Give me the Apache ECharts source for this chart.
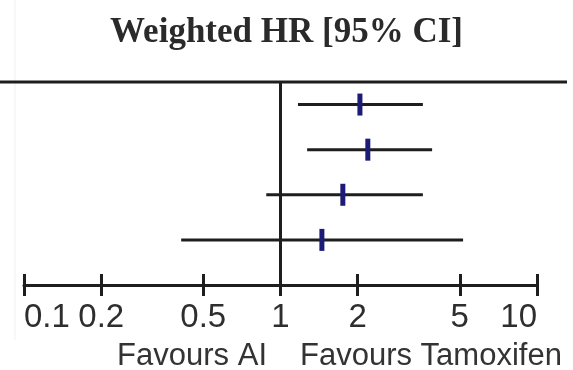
<!DOCTYPE html>
<html>
<head>
<meta charset="utf-8">
<script src="https://cdn.jsdelivr.net/npm/echarts@6/dist/echarts.min.js"></script>
<style>
  html, body { margin: 0; padding: 0; background: #ffffff; }
  #chart { width: 573px; height: 370px; }
</style>
</head>
<body>
<div id="chart"></div>
<script>
// Forest plot rows (top to bottom)
const rows = [1, 2, 3, 4];
const hrEstimate = [2.04, 2.19, 1.75, 1.45];
const ciLower = [1.17, 1.27, 0.88, 0.41];
const ciUpper = [3.59, 3.90, 3.59, 5.15];

// Log-scale ticks on the hazard ratio axis
const tickValues = [0.1, 0.2, 0.5, 1, 2, 5, 10];
const tickLabels = ['0.1', '0.2', '0.5', '1', '2', '5', '10'];

const titleText = 'Weighted HR [95% CI]';
const leftNote = 'Favours AI';
const rightNote = 'Favours Tamoxifen';

const ink = '#1e1e1e';
const markColor = '#1c1c78';

const seriesData = rows.map((r, i) => [hrEstimate[i], ciLower[i], ciUpper[i], r]);

function labelFor(v) {
  let best = 0;
  tickValues.forEach((t, i) => {
    if (Math.abs(Math.log10(t) - Math.log10(v)) < Math.abs(Math.log10(tickValues[best]) - Math.log10(v))) best = i;
  });
  return tickLabels[best];
}

const chart = echarts.init(document.getElementById('chart'), null, { renderer: 'canvas' });

const option = {
  animation: false,
  backgroundColor: '#ffffff',
  title: {
    text: titleText,
    left: 'center',
    top: 10,
    textStyle: {
      fontFamily: 'Liberation Serif',
      fontWeight: 'bold',
      fontSize: 35,
      color: '#2a2a2a'
    }
  },
  grid: { left: 24, right: 36, top: 82, bottom: 85 },
  xAxis: [
    {
      type: 'log',
      logBase: 10,
      min: 0.1,
      max: 10,
      axisLine: { show: true, lineStyle: { color: ink, width: 3 } },
      axisTick: { show: true, customValues: tickValues, length: 11, lineStyle: { color: ink, width: 3 } },
      axisLabel: {
        show: true,
        customValues: tickValues,
        formatter: labelFor,
        fontFamily: 'Liberation Sans',
        fontSize: 33,
        color: '#2e2e2e',
        margin: 16,
        alignMinLabel: 'left',
        alignMaxLabel: 'right'
      },
      splitLine: { show: false },
      minorTick: { show: false }
    },
    {
      type: 'log',
      logBase: 10,
      min: 0.1,
      max: 10,
      position: 'bottom',
      offset: 0,
      axisLine: { show: false },
      axisTick: { show: true, inside: true, customValues: tickValues, length: 11, lineStyle: { color: ink, width: 3 } },
      axisLabel: { show: false },
      splitLine: { show: false }
    }
  ],
  yAxis: {
    type: 'value',
    min: 0.5,
    max: 5,
    inverse: true,
    show: false
  },
  series: [
    {
      type: 'custom',
      xAxisIndex: 0,
      yAxisIndex: 0,
      data: seriesData,
      encode: { x: [0, 1, 2], y: 3 },
      renderItem: function (params, api) {
        const y = api.value(3);
        const pLo = api.coord([api.value(1), y]);
        const pHi = api.coord([api.value(2), y]);
        const pEst = api.coord([api.value(0), y]);
        return {
          type: 'group',
          children: [
            {
              type: 'line',
              shape: { x1: pLo[0], y1: pLo[1], x2: pHi[0], y2: pHi[1] },
              style: { stroke: ink, lineWidth: 3 }
            },
            {
              type: 'rect',
              shape: { x: pEst[0] - 2.5, y: pEst[1] - 11, width: 5, height: 22 },
              style: { fill: markColor }
            }
          ]
        };
      },
      markLine: {
        silent: true,
        symbol: 'none',
        label: { show: false },
        lineStyle: { color: ink, width: 3, type: 'solid' },
        data: [{ xAxis: 1 }]
      }
    }
  ],
  graphic: [
    {
      type: 'line',
      shape: { x1: 15, y1: 0, x2: 15, y2: 340 },
      style: { stroke: '#f1f1f1', lineWidth: 1 },
      silent: true
    },
    {
      type: 'line',
      shape: { x1: 0, y1: 82, x2: 567, y2: 82 },
      style: { stroke: ink, lineWidth: 3 },
      silent: true
    },
    {
      type: 'text',
      x: 267,
      y: 356,
      style: {
        text: leftNote,
        fontFamily: 'Liberation Sans',
        fontSize: 31,
        fill: '#333333',
        align: 'right',
        verticalAlign: 'middle'
      },
      silent: true
    },
    {
      type: 'text',
      x: 300,
      y: 356,
      style: {
        text: rightNote,
        fontFamily: 'Liberation Sans',
        fontSize: 31,
        fill: '#333333',
        align: 'left',
        verticalAlign: 'middle'
      },
      silent: true
    }
  ]
};

chart.setOption(option);
</script>
</body>
</html>
